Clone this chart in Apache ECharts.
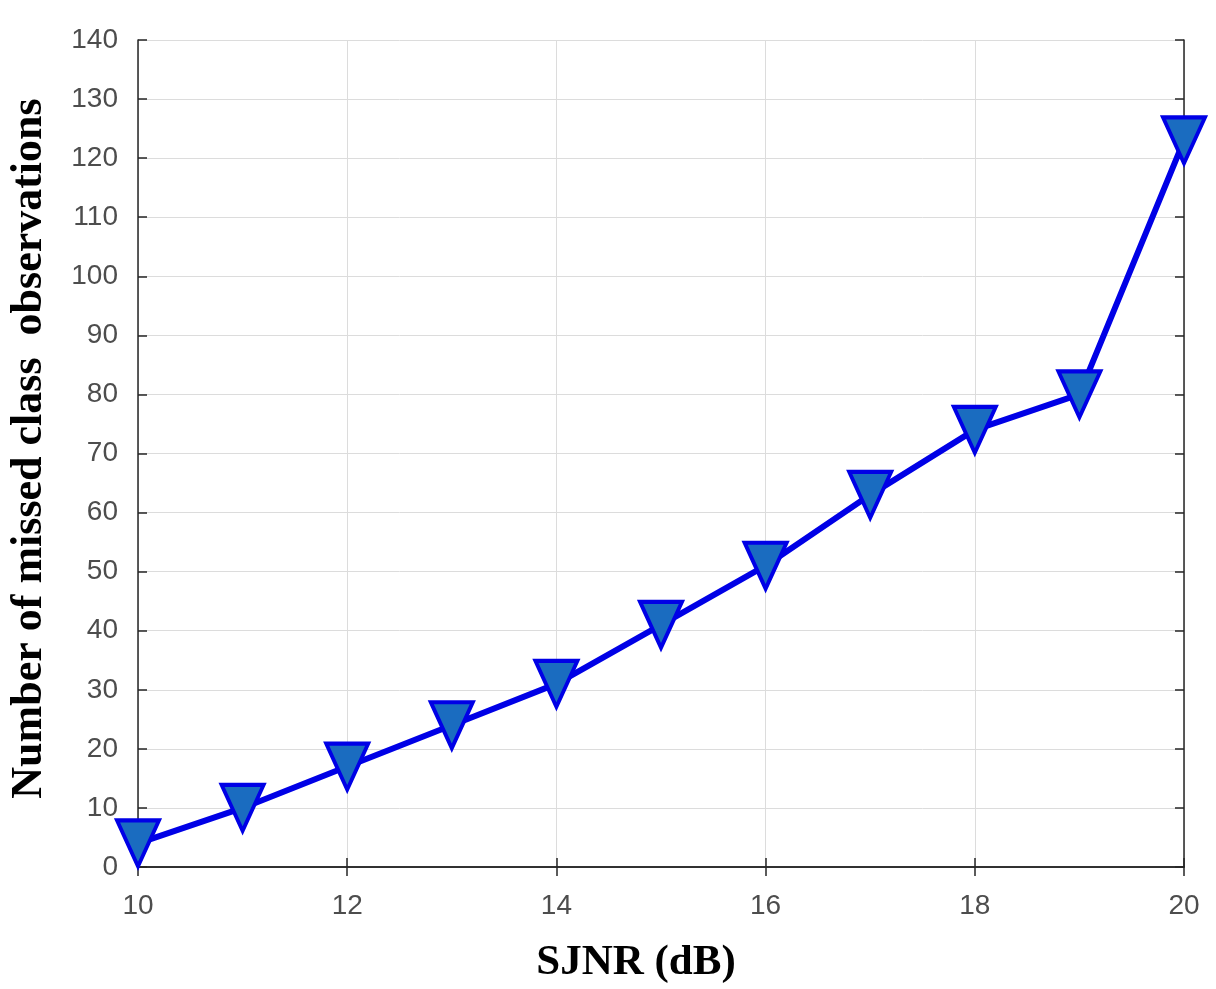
<!DOCTYPE html>
<html>
<head>
<meta charset="utf-8">
<script src="https://cdn.jsdelivr.net/npm/echarts@6/dist/echarts.min.js"></script>
<style>html,body{margin:0;padding:0;background:#fff;}#c{width:1216px;height:989px;}</style>
</head>
<body>
<div id="c"></div>
<script>
const sjnr = [10, 11, 12, 13, 14, 15, 16, 17, 18, 19, 20];
const missed = [4, 10, 17, 24, 31, 41, 51, 63, 74, 80, 123];
const xName = 'SJNR (dB)';
const yName = 'Number of missed class  observations';

const chart = echarts.init(document.getElementById('c'));
const tickFont = { fontFamily: 'Liberation Sans, Arial, sans-serif', fontSize: 28, color: '#4d4d4d' };
const axLine = { show: true, lineStyle: { color: '#262626', width: 1.5 } };
const tick = { show: true, inside: true, length: 9, lineStyle: { color: '#262626', width: 1.5 } };
const serif = 'Liberation Serif, Times New Roman, serif';
chart.setOption({
  animation: false,
  backgroundColor: '#fff',
  grid: { left: 134, right: 32, top: 40, bottom: 120, show: false },
  xAxis: [{
    type: 'value', min: 10, max: 20, interval: 2,
    name: xName, nameLocation: 'middle', nameGap: 74,
    nameTextStyle: { fontFamily: serif, fontWeight: 'bold', fontSize: 43, color: '#000', padding: [0, 50, 0, 0] },
    axisLine: axLine,
    axisTick: tick,
    axisLabel: Object.assign({ margin: 25 }, tickFont),
    splitLine: { show: true, lineStyle: { color: '#dcdcdc', width: 1 } }
  }, {
    type: 'value', min: 10, max: 20, interval: 2, position: 'top',
    axisLine: axLine, axisTick: tick,
    axisLabel: { show: false }, splitLine: { show: false }
  }],
  yAxis: [{
    type: 'value', min: 0, max: 140, interval: 10,
    name: yName, nameLocation: 'middle', nameGap: 86,
    nameTextStyle: { fontFamily: serif, fontWeight: 'bold', fontSize: 44, color: '#000', padding: [0, 0, 0, 10] },
    axisLine: axLine,
    axisTick: tick,
    axisLabel: Object.assign({ margin: 20 }, tickFont),
    splitLine: { show: true, lineStyle: { color: '#dcdcdc', width: 1 } }
  }, {
    type: 'value', min: 0, max: 140, interval: 10, position: 'right',
    axisLine: axLine, axisTick: tick,
    axisLabel: { show: false }, splitLine: { show: false }
  }],
  series: [{
    type: 'line',
    data: sjnr.map((x, i) => [x, missed[i]]),
    lineStyle: { color: '#0000e6', width: 6 },
    symbol: 'triangle', symbolRotate: 180, symbolSize: [42, 46],
    itemStyle: { color: '#1a6cc0', borderColor: '#0000e6', borderWidth: 4 },
    z: 5
  }]
});
</script>
</body>
</html>
